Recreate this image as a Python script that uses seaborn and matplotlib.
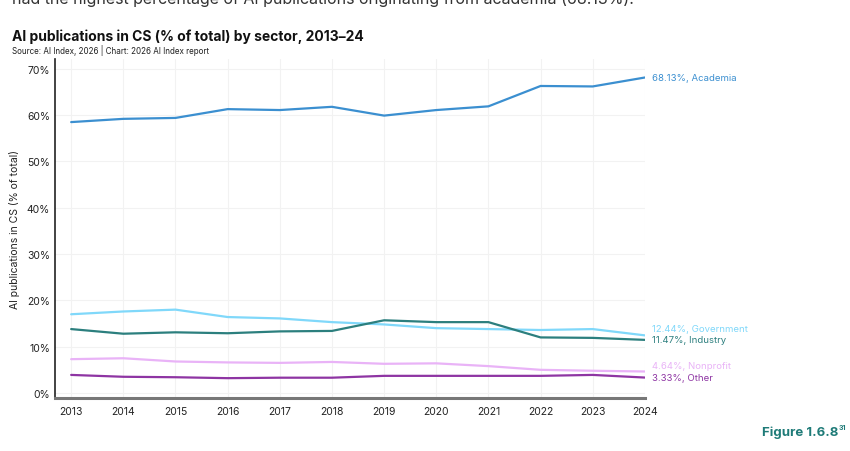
import pandas as pd
import seaborn as sns
import matplotlib.pyplot as plt
from matplotlib.ticker import FuncFormatter

years = list(range(2013, 2025))
academia = [58.5, 59.2, 59.4, 61.3, 61.1, 61.8, 59.9, 61.1, 61.9, 66.3, 66.2, 68.13]
government = [17.0, 17.6, 18.0, 16.4, 16.1, 15.3, 14.8, 14.0, 13.8, 13.6, 13.8, 12.44]
industry = [13.8, 12.8, 13.1, 12.9, 13.3, 13.4, 15.7, 15.3, 15.3, 12.0, 11.9, 11.47]
nonprofit = [7.3, 7.5, 6.8, 6.6, 6.5, 6.7, 6.3, 6.4, 5.8, 5.0, 4.8, 4.64]
other = [3.9, 3.5, 3.4, 3.2, 3.3, 3.3, 3.7, 3.7, 3.7, 3.7, 3.9, 3.33]

sectors = ['Academia', 'Government', 'Industry', 'Nonprofit', 'Other']
colors = {
    'Academia': '#3b8fd0',
    'Government': '#80d8fa',
    'Industry': '#2c7f7e',
    'Nonprofit': '#e9b3f7',
    'Other': '#8e35a3',
}
# vertical nudges (points) so the end labels don't collide
label_nudge = {'Academia': 0, 'Government': 5, 'Industry': 0, 'Nonprofit': 4.5, 'Other': 0}

frames = []
for name, vals in zip(sectors, [academia, government, industry, nonprofit, other]):
    frames.append(pd.DataFrame({'Year': years, 'Share': vals, 'Sector': name}))
data = pd.concat(frames, ignore_index=True)

sns.set_theme(style='white')
plt.rcParams['font.family'] = ['Inter', 'DejaVu Sans']

fig = plt.figure(figsize=(8.5, 4.52), dpi=100)
ax = fig.add_axes([0.0647, 0.1173, 0.694, 0.7497])

sns.lineplot(data=data, x='Year', y='Share', hue='Sector', palette=colors,
             linewidth=1.6, ax=ax, legend=False)

ax.set_xlim(2012.69, 2024)
ax.set_ylim(-1.08, 72.1)
ax.set_xticks(years)
ax.set_yticks(range(0, 71, 10))
ax.yaxis.set_major_formatter(FuncFormatter(lambda v, p: f'{int(v)}%'))
ax.tick_params(axis='both', labelsize=7.5, colors='#222222', length=0)
ax.tick_params(axis='y', pad=3.5)
ax.tick_params(axis='x', pad=6)
ax.grid(True, color='#f2f2f2', linewidth=0.8)
ax.set_xlabel('')
ax.set_ylabel('AI publications in CS (% of total)', fontsize=7.5, color='#222222', labelpad=5)

for side in ['top', 'right']:
    ax.spines[side].set_visible(False)
ax.spines['left'].set_color('#222222')
ax.spines['left'].set_linewidth(1.2)
ax.spines['bottom'].set_color('#777777')
ax.spines['bottom'].set_linewidth(2.2)

last = data[data['Year'] == years[-1]]
for _, row in last.iterrows():
    ax.annotate(f"{row['Share']:.2f}%, {row['Sector']}",
                xy=(row['Year'], row['Share']),
                xytext=(5, label_nudge[row['Sector']]), textcoords='offset points',
                va='center', ha='left', fontsize=6.9, color=colors[row['Sector']],
                annotation_clip=False)

fig.text(0.0141, 1.003, 'had the highest percentage of AI publications originating from academia (68.13%).',
         fontsize=11.5, color='#333333', va='center', ha='left')
fig.text(0.0141, 0.918, 'AI publications in CS (% of total) by sector, 2013–24',
         fontsize=10, fontweight='bold', color='#111111', va='center', ha='left')
fig.text(0.0141, 0.888, 'Source: AI Index, 2026 | Chart: 2026 AI Index report',
         fontsize=5.8, color='#222222', va='center', ha='left')
fig.text(0.986, 0.043, 'Figure 1.6.8', fontsize=9.5, fontweight='bold',
         color='#1f7b78', va='center', ha='right')
fig.text(0.9865, 0.052, '31', fontsize=5, fontweight='bold',
         color='#1f7b78', va='center', ha='left')

fig.savefig('out.png', dpi=100)
